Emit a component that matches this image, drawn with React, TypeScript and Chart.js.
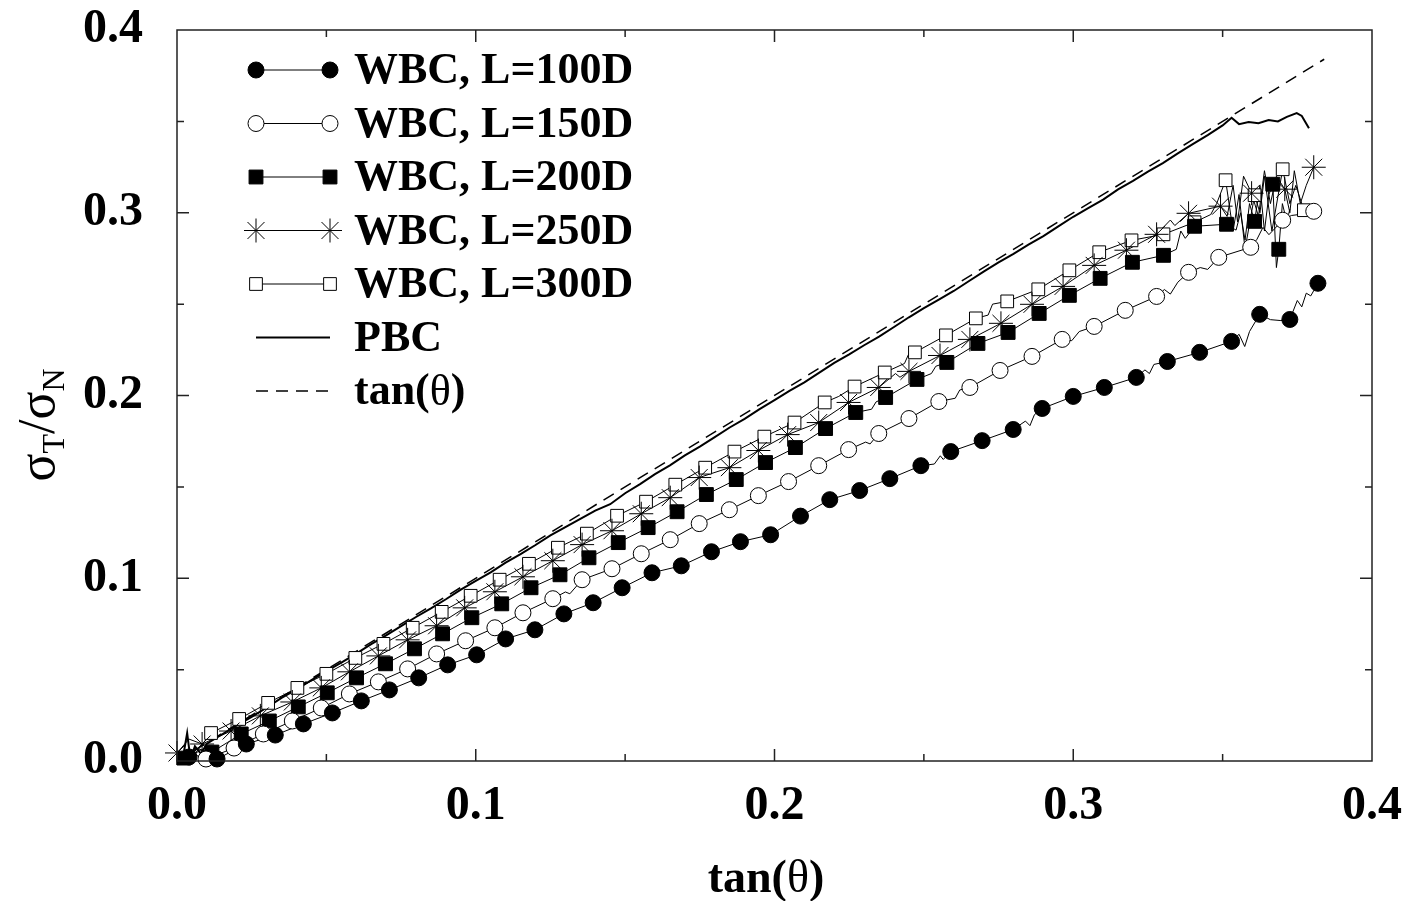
import React, { useEffect, useRef } from 'react';
import { Chart, registerables } from 'chart.js';

Chart.register(...registerables);

type P = [number, number];

// ---------- data ----------
const xTickValues = [0, 0.1, 0.2, 0.3, 0.4];
const yTickValues = [0, 0.1, 0.2, 0.3, 0.4];
const majorTickMarks = [0.1, 0.2, 0.3];
const minorTickMarks = [0.05, 0.15, 0.25, 0.35];

const legendLabels = ['WBC, L=100D', 'WBC, L=150D', 'WBC, L=200D', 'WBC, L=250D', 'WBC, L=300D', 'PBC', 'tan(θ)'];

const l100Markers: P[] = [[0.004,0.0022],[0.0134,0.0011],[0.0232,0.0093],[0.0329,0.0142],[0.0423,0.0203],[0.052,0.0263],[0.0617,0.0329],[0.0711,0.0389],[0.0809,0.0455],[0.0906,0.0526],[0.1003,0.0581],[0.110,0.0668],[0.1198,0.0718],[0.1295,0.0805],[0.1393,0.0866],[0.149,0.0948],[0.159,0.103],[0.1688,0.1068],[0.1789,0.1145],[0.1886,0.12],[0.1987,0.1238],[0.2087,0.134],[0.2185,0.143],[0.2285,0.148],[0.2386,0.1545],[0.249,0.1616],[0.259,0.1693],[0.2695,0.1753],[0.2799,0.1814],[0.2896,0.1929],[0.300,0.1995],[0.3104,0.2044],[0.3211,0.2099],[0.3315,0.2186],[0.3423,0.2236],[0.353,0.2296],[0.3624,0.2444],[0.3725,0.2416],[0.3819,0.2614]];
const l100Noise: P[] = [[0,0],[0.008,0.006],[0.2535,0.1625],[0.2555,0.167],[0.2565,0.165],[0.284,0.186],[0.2855,0.1835],[0.287,0.1895],[0.324,0.214],[0.3255,0.212],[0.327,0.217],[0.3555,0.2335],[0.3574,0.2268],[0.359,0.235],[0.366,0.2415],[0.3695,0.241],[0.375,0.252],[0.3765,0.2485],[0.378,0.256],[0.3795,0.2545]];

const l150Markers: P[] = [[0.0097,0.0011],[0.0191,0.0071],[0.0289,0.0148],[0.0386,0.0219],[0.0483,0.029],[0.0577,0.0367],[0.0674,0.0433],[0.0772,0.0504],[0.0869,0.0586],[0.0966,0.0658],[0.1064,0.0729],[0.1158,0.0811],[0.1258,0.0888],[0.1356,0.0992],[0.1456,0.1052],[0.1554,0.1134],[0.1651,0.1211],[0.1748,0.1299],[0.1849,0.1375],[0.1946,0.1452],[0.2047,0.1529],[0.2148,0.1616],[0.2248,0.1704],[0.2349,0.1792],[0.245,0.1874],[0.255,0.1967],[0.2654,0.2044],[0.2755,0.2137],[0.2862,0.2214],[0.2963,0.2307],[0.307,0.2378],[0.3174,0.2466],[0.3279,0.2542],[0.3386,0.2674],[0.3487,0.2756],[0.3594,0.2811],[0.3701,0.2959],[0.3805,0.3008]];
const l150Noise: P[] = [[0,0],[0.005,0.004],[0.13,0.0925],[0.1315,0.0915],[0.2305,0.1745],[0.232,0.1735],[0.2605,0.1985],[0.262,0.203],[0.2995,0.23],[0.302,0.235],[0.3305,0.258],[0.3325,0.2555],[0.335,0.262],[0.3425,0.27],[0.345,0.269],[0.3615,0.2855],[0.3635,0.292],[0.3655,0.288],[0.373,0.2985],[0.3755,0.299],[0.378,0.3]];

const l200Markers: P[] = [[0.0023,0.0016],[0.0117,0.0049],[0.0215,0.0148],[0.0309,0.0219],[0.0406,0.0296],[0.0503,0.0373],[0.0601,0.0455],[0.0698,0.0532],[0.0795,0.0614],[0.0889,0.0696],[0.0987,0.0784],[0.1087,0.086],[0.1185,0.0948],[0.1282,0.1019],[0.1379,0.1112],[0.1477,0.1195],[0.1577,0.1277],[0.1674,0.1364],[0.1772,0.1458],[0.1872,0.154],[0.197,0.1633],[0.207,0.1715],[0.2171,0.1819],[0.2272,0.1907],[0.2372,0.1989],[0.2477,0.2088],[0.2577,0.2181],[0.2681,0.2285],[0.2782,0.2345],[0.2886,0.2449],[0.2987,0.2548],[0.309,0.2641],[0.3198,0.2729],[0.3302,0.2767],[0.3406,0.2926],[0.3513,0.2937],[0.3607,0.2953],[0.3668,0.3156],[0.3688,0.28]];
const l200Noise: P[] = [[0,0],[0.006,0.007],[0.2325,0.1925],[0.234,0.1965],[0.2525,0.212],[0.254,0.216],[0.3345,0.28],[0.336,0.29],[0.3375,0.286],[0.3545,0.2905],[0.356,0.3],[0.3575,0.285],[0.359,0.305],[0.3625,0.315],[0.364,0.29],[0.3655,0.31],[0.368,0.27],[0.37,0.305],[0.3715,0.295],[0.3725,0.302]];

const l250Markers: P[] = [[0.0,0.0044],[0.0084,0.0093],[0.0181,0.0164],[0.0279,0.0247],[0.0386,0.0323],[0.0483,0.04],[0.0577,0.0488],[0.0674,0.0575],[0.0772,0.0663],[0.0869,0.074],[0.0963,0.0838],[0.1064,0.0926],[0.1158,0.1008],[0.1258,0.1096],[0.1356,0.1184],[0.1456,0.126],[0.1554,0.1353],[0.1651,0.1441],[0.1748,0.1551],[0.1849,0.1605],[0.1946,0.1699],[0.2044,0.1786],[0.2148,0.1852],[0.2248,0.1962],[0.2349,0.2044],[0.245,0.2132],[0.2554,0.2219],[0.2654,0.2307],[0.2758,0.2395],[0.2862,0.2499],[0.2966,0.2597],[0.307,0.2712],[0.3178,0.2795],[0.3279,0.2882],[0.3386,0.2997],[0.3493,0.3036],[0.3597,0.3107],[0.3708,0.3129],[0.3805,0.3249]];
const l250Noise: P[] = [[0.004,0.012],[0.2405,0.212],[0.242,0.21],[0.3325,0.296],[0.334,0.293],[0.3515,0.298],[0.3535,0.315],[0.355,0.295],[0.357,0.32],[0.362,0.298],[0.364,0.323],[0.366,0.305],[0.368,0.32],[0.3725,0.3],[0.374,0.323],[0.376,0.305],[0.378,0.315]];

const l300Markers: P[] = [[0.0114,0.0153],[0.0208,0.023],[0.0305,0.0318],[0.0403,0.04],[0.05,0.0477],[0.0597,0.0564],[0.0691,0.0641],[0.0789,0.0729],[0.0886,0.0816],[0.0983,0.0904],[0.108,0.0992],[0.1178,0.1079],[0.1275,0.1167],[0.1372,0.1244],[0.1473,0.1342],[0.157,0.1419],[0.1668,0.1512],[0.1768,0.1605],[0.1866,0.1693],[0.1966,0.1775],[0.2067,0.1852],[0.2168,0.1962],[0.2268,0.2049],[0.2369,0.2126],[0.247,0.2236],[0.2574,0.2329],[0.2674,0.2422],[0.2779,0.2515],[0.2883,0.2581],[0.2987,0.2685],[0.3087,0.2784],[0.3195,0.2849],[0.3302,0.2882],[0.3406,0.2948],[0.351,0.3178],[0.3607,0.3096],[0.3701,0.3238],[0.3772,0.3014]];
const l300Noise: P[] = [[0,0],[0.003,0.006],[0.006,0.004],[0.2215,0.1995],[0.2435,0.2175],[0.245,0.223],[0.2715,0.244],[0.273,0.25],[0.346,0.299],[0.348,0.305],[0.3535,0.29],[0.3555,0.31],[0.3575,0.28],[0.3625,0.3],[0.364,0.32],[0.3665,0.29],[0.3725,0.305],[0.3745,0.315]];

const pbcTrace: P[] = [[0,0],[0.002,0.002],[0.0034,0.0153],[0.0045,0.001],[0.006,0.008],[0.008,0.004],[0.01,0.0095],[0.015,0.0145],[0.02,0.0195],[0.025,0.0242],[0.03,0.0292],[0.035,0.0345],[0.04,0.0392],[0.045,0.0443],[0.05,0.0492],[0.055,0.0538],[0.06,0.0588],[0.065,0.064],[0.07,0.0688],[0.075,0.0738],[0.08,0.0788],[0.085,0.0835],[0.09,0.0885],[0.095,0.0938],[0.1,0.0985],[0.105,0.1032],[0.11,0.1085],[0.115,0.1132],[0.12,0.1182],[0.125,0.1235],[0.13,0.128],[0.135,0.1325],[0.14,0.137],[0.145,0.1405],[0.15,0.1465],[0.155,0.1515],[0.16,0.157],[0.165,0.1618],[0.17,0.1672],[0.175,0.172],[0.18,0.1772],[0.185,0.1825],[0.19,0.1872],[0.195,0.1925],[0.2,0.1975],[0.205,0.2025],[0.21,0.2072],[0.215,0.2125],[0.22,0.2178],[0.225,0.2225],[0.23,0.2275],[0.235,0.2322],[0.24,0.2375],[0.245,0.2428],[0.25,0.2478],[0.255,0.2525],[0.26,0.2572],[0.265,0.2625],[0.27,0.2678],[0.275,0.2728],[0.28,0.2775],[0.285,0.2825],[0.29,0.2872],[0.295,0.2925],[0.3,0.2978],[0.305,0.3025],[0.31,0.3072],[0.315,0.3128],[0.32,0.3175],[0.325,0.3225],[0.33,0.3272],[0.335,0.3325],[0.34,0.3375],[0.345,0.3425],[0.35,0.3478],[0.353,0.352],[0.3555,0.3485],[0.3587,0.3496],[0.362,0.349],[0.3654,0.3507],[0.3685,0.35],[0.3715,0.3525],[0.3748,0.3545],[0.3765,0.353],[0.3789,0.3463]];
const tanTrace: P[] = [[0,0],[0.384,0.384]];

// ---------- styles ----------
const FONT = '"Liberation Serif", "Times New Roman", Times, serif';
type MarkerStyle = { pointStyle: string; radius: number; fill: string };
const markerStyles: MarkerStyle[] = [
  { pointStyle: 'circle', radius: 8, fill: '#000' },
  { pointStyle: 'circle', radius: 8, fill: '#fff' },
  { pointStyle: 'rect', radius: 9.8, fill: '#000' },
  { pointStyle: 'star', radius: 12, fill: '#000' },
  { pointStyle: 'rect', radius: 9, fill: '#fff' },
];

const wbcSeries = [
  { markers: l100Markers, noise: l100Noise },
  { markers: l150Markers, noise: l150Noise },
  { markers: l200Markers, noise: l200Noise },
  { markers: l250Markers, noise: l250Noise },
  { markers: l300Markers, noise: l300Noise },
];

const toXY = (pts: P[]) => pts.map(([x, y]) => ({ x, y }));

function drawMarker(ctx: CanvasRenderingContext2D, s: MarkerStyle, x: number, y: number) {
  ctx.save();
  ctx.lineWidth = 1;
  ctx.strokeStyle = '#000';
  ctx.fillStyle = s.fill;
  ctx.beginPath();
  if (s.pointStyle === 'circle') {
    ctx.arc(x, y, s.radius, 0, Math.PI * 2);
    ctx.fill();
    ctx.stroke();
  } else if (s.pointStyle === 'rect') {
    const h = s.radius * Math.SQRT1_2;
    ctx.rect(x - h, y - h, 2 * h, 2 * h);
    ctx.fill();
    ctx.stroke();
  } else {
    const r = s.radius;
    const d = r * Math.SQRT1_2;
    ctx.moveTo(x, y - r); ctx.lineTo(x, y + r);
    ctx.moveTo(x - r, y); ctx.lineTo(x + r, y);
    ctx.moveTo(x - d, y - d); ctx.lineTo(x + d, y + d);
    ctx.moveTo(x - d, y + d); ctx.lineTo(x + d, y - d);
    ctx.stroke();
  }
  ctx.restore();
}

const decorPlugin = {
  id: 'decor',
  afterDatasetsDraw(chart: any) {
    const { ctx, chartArea: a, scales } = chart;
    const xs = scales.x;
    const ys = scales.y;
    ctx.save();
    // frame
    ctx.strokeStyle = '#222';
    ctx.lineWidth = 1.5;
    ctx.strokeRect(a.left, a.top, a.right - a.left, a.bottom - a.top);
    // inward ticks
    const drawTicks = (vals: number[], len: number) => {
      ctx.beginPath();
      for (const v of vals) {
        const px = xs.getPixelForValue(v);
        ctx.moveTo(px, a.bottom); ctx.lineTo(px, a.bottom - len);
        ctx.moveTo(px, a.top); ctx.lineTo(px, a.top + len);
        const py = ys.getPixelForValue(v);
        ctx.moveTo(a.left, py); ctx.lineTo(a.left + len, py);
        ctx.moveTo(a.right, py); ctx.lineTo(a.right - len, py);
      }
      ctx.stroke();
    };
    drawTicks(majorTickMarks, 12);
    drawTicks(minorTickMarks, 7);

    // legend
    const x0 = 256, x1 = 330, textX = 354;
    ctx.font = `bold 44px ${FONT}`;
    ctx.textBaseline = 'middle';
    ctx.textAlign = 'left';
    ctx.fillStyle = '#000';
    legendLabels.forEach((label, i) => {
      const y = 70 + i * 53.5;
      ctx.save();
      ctx.strokeStyle = '#000';
      if (i < 5) {
        ctx.lineWidth = 1;
        ctx.beginPath(); ctx.moveTo(x0, y); ctx.lineTo(x1, y); ctx.stroke();
        drawMarker(ctx, markerStyles[i], x0, y);
        drawMarker(ctx, markerStyles[i], x1, y);
      } else if (i === 5) {
        ctx.lineWidth = 2;
        ctx.beginPath(); ctx.moveTo(x0, y); ctx.lineTo(x1, y); ctx.stroke();
      } else {
        ctx.lineWidth = 1.5;
        ctx.setLineDash([12, 8]);
        ctx.beginPath(); ctx.moveTo(x0, y); ctx.lineTo(x1, y); ctx.stroke();
      }
      ctx.restore();
      if (label === 'tan(θ)') {
        let tx = textX;
        const parts: [string, string][] = [['tan(', 'bold'], ['θ', 'normal'], [')', 'bold']];
        for (const [t, w] of parts) {
          ctx.font = `${w} 44px ${FONT}`;
          ctx.fillText(t, tx, y + 2);
          tx += ctx.measureText(t).width;
        }
        ctx.font = `bold 44px ${FONT}`;
      } else {
        ctx.fillText(label, textX, y + 2);
      }
    });

    // x-axis title
    {
      const parts: [string, string][] = [['tan(', 'bold'], ['θ', 'normal'], [')', 'bold']];
      let total = 0;
      for (const [t, w] of parts) { ctx.font = `${w} 46px ${FONT}`; total += ctx.measureText(t).width; }
      let tx = 766 - total / 2;
      ctx.textBaseline = 'middle';
      for (const [t, w] of parts) {
        ctx.font = `${w} 46px ${FONT}`;
        ctx.fillText(t, tx, 880);
        tx += ctx.measureText(t).width;
      }
    }

    // y-axis title (rotated, with subscripts)
    {
      const parts: [string, number, number][] = [['σ', 52, 0], ['T', 32, 10], ['/', 52, 0], ['σ', 52, 0], ['N', 32, 10]];
      let total = 0;
      for (const [t, size] of parts) { ctx.font = `${size}px ${FONT}`; total += ctx.measureText(t).width; }
      ctx.save();
      ctx.translate(42, 425);
      ctx.rotate(-Math.PI / 2);
      ctx.textBaseline = 'alphabetic';
      let tx = -total / 2;
      for (const [t, size, off] of parts) {
        ctx.font = `${size}px ${FONT}`;
        ctx.fillText(t, tx, 12 + off);
        tx += ctx.measureText(t).width;
      }
      ctx.restore();
    }
    ctx.restore();
  },
};

export default function App() {
  const ref = useRef<HTMLCanvasElement>(null);
  useEffect(() => {
    const datasets: any[] = [];
    wbcSeries.forEach((s, i) => {
      const trace = [...s.markers, ...s.noise].sort((p, q) => p[0] - q[0]);
      datasets.push({
        label: legendLabels[i] + ' line',
        data: toXY(trace),
        showLine: true,
        borderColor: '#000',
        borderWidth: 1,
        pointRadius: 0,
        order: 20 + i,
      });
      datasets.push({
        label: legendLabels[i],
        data: toXY(s.markers),
        showLine: false,
        pointStyle: markerStyles[i].pointStyle,
        pointRadius: markerStyles[i].radius,
        pointBackgroundColor: markerStyles[i].fill,
        pointBorderColor: '#000',
        pointBorderWidth: 1,
        clip: false,
        order: 1 + i,
      });
    });
    datasets.push({
      label: 'PBC',
      data: toXY(pbcTrace),
      showLine: true,
      borderColor: '#000',
      borderWidth: 2,
      pointRadius: 0,
      order: 15,
    });
    datasets.push({
      label: 'tan(θ)',
      data: toXY(tanTrace),
      showLine: true,
      borderColor: '#000',
      borderWidth: 1.5,
      borderDash: [12, 8],
      pointRadius: 0,
      order: 16,
    });

    const tickFont = { family: FONT, size: 48, weight: 'bold' as const };
    const chart = new Chart(ref.current!, {
      type: 'scatter',
      data: { datasets },
      options: {
        animation: false,
        responsive: false,
        maintainAspectRatio: false,
        events: [],
        layout: { padding: { top: 30, right: 38, left: 0, bottom: 0 } },
        plugins: { legend: { display: false }, tooltip: { enabled: false } },
        scales: {
          x: {
            type: 'linear',
            min: 0,
            max: 0.4,
            grid: { display: false },
            border: { display: false },
            ticks: {
              font: tickFont,
              color: '#000',
              padding: 9,
              maxRotation: 0,
              callback: (v: any) => Number(v).toFixed(1),
            },
            afterBuildTicks: (s: any) => { s.ticks = xTickValues.map((value) => ({ value })); },
            afterFit: (s: any) => { s.height = 140; s.paddingLeft = 0; s.paddingRight = 0; },
          },
          y: {
            type: 'linear',
            min: 0,
            max: 0.4,
            grid: { display: false },
            border: { display: false },
            ticks: {
              font: tickFont,
              color: '#000',
              padding: 26,
              callback: (v: any) => Number(v).toFixed(1),
            },
            afterBuildTicks: (s: any) => { s.ticks = yTickValues.map((value) => ({ value })); },
            afterFit: (s: any) => { s.width = 177; s.paddingTop = 0; s.paddingBottom = 0; },
          },
        },
      },
      plugins: [decorPlugin],
    } as any);
    return () => chart.destroy();
  }, []);

  return (
    <div style={{ position: 'absolute', left: 0, top: 0, width: 1410, height: 901, background: '#fff' }}>
      <canvas ref={ref} width={1410} height={901} style={{ display: 'block' }} />
    </div>
  );
}
